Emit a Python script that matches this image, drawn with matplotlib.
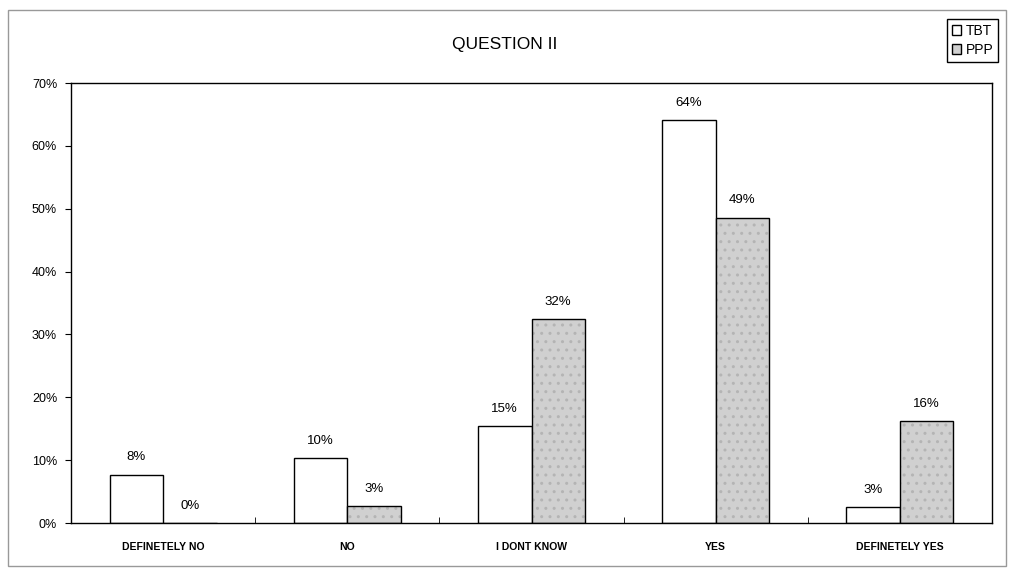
import matplotlib.pyplot as plt
import numpy as np
from matplotlib.patches import Rectangle

plt.rcParams['font.family'] = ['Liberation Sans', 'DejaVu Sans']

categories = ['DEFINETELY NO', 'NO', 'I DONT KNOW', 'YES', 'DEFINETELY YES']
tbt = [7.7, 10.3, 15.4, 64.1, 2.6]
ppp = [0.0, 2.7, 32.4, 48.6, 16.2]
tbt_labels = ['8%', '10%', '15%', '64%', '3%']
ppp_labels = ['0%', '3%', '32%', '49%', '16%']

fig = plt.figure(figsize=(10.14, 5.74), dpi=100)
# outer chart border
fig.patches.append(Rectangle((8 / 1014, 1 - 566 / 574), 998 / 1014, 556 / 574,
                             transform=fig.transFigure, fill=False,
                             edgecolor='#999999', linewidth=1.0))

ax = fig.add_axes([71 / 1014, 1 - 523 / 574, 921 / 1014, 440 / 574])
x = np.arange(len(categories))
w = 0.29

b1 = ax.bar(x - w / 2, tbt, w, color='white', edgecolor='black', linewidth=1.0, label='TBT')
# stippled grey fill, then the black outline on top
ax.bar(x + w / 2, ppp, w, color='#d0d0d0', edgecolor='#b4b4b4', linewidth=0, hatch='..')
b2 = ax.bar(x + w / 2, ppp, w, fill=False, edgecolor='black', linewidth=1.0)

for i in range(len(categories)):
    ax.annotate(tbt_labels[i], (x[i] - w / 2, tbt[i]), xytext=(0, 8),
                textcoords='offset points', ha='center', va='bottom', fontsize=9.5)
    ax.annotate(ppp_labels[i], (x[i] + w / 2, ppp[i]), xytext=(0, 8),
                textcoords='offset points', ha='center', va='bottom', fontsize=9.5)

ax.set_xlim(-0.5, len(categories) - 0.5)
ax.set_ylim(0, 70)
ax.set_yticks(range(0, 71, 10))
ax.set_yticklabels([f'{v}%' for v in range(0, 71, 10)], fontsize=9)
ax.set_xticks(x)
ax.set_xticklabels(categories, fontsize=7.5, fontweight='bold')
ax.set_xticks(np.arange(0.5, len(categories) - 0.5, 1), minor=True)
ax.tick_params(axis='x', which='major', length=0, pad=14)
ax.tick_params(axis='x', which='minor', length=4, direction='in')
ax.tick_params(axis='y', length=4, direction='out', pad=6)
for s in ax.spines.values():
    s.set_linewidth(1.0)

fig.text(505 / 1014, 1 - 45 / 574, 'QUESTION II', ha='center', va='center', fontsize=12.5)

# legend swatch for PPP
ppp_patch = Rectangle((0, 0), 1, 1, facecolor='#d0d0d0', edgecolor='black', linewidth=1.0)
fig.legend(handles=[b1, ppp_patch], labels=['TBT', 'PPP'], loc='upper right',
           bbox_to_anchor=(1005 / 1014, 1 - 12 / 574), fontsize=10,
           handlelength=0.7, handleheight=0.7, handletextpad=0.3,
           borderpad=0.35, labelspacing=0.35, fancybox=False,
           edgecolor='black', framealpha=1)

fig.savefig('out.png', dpi=100)
